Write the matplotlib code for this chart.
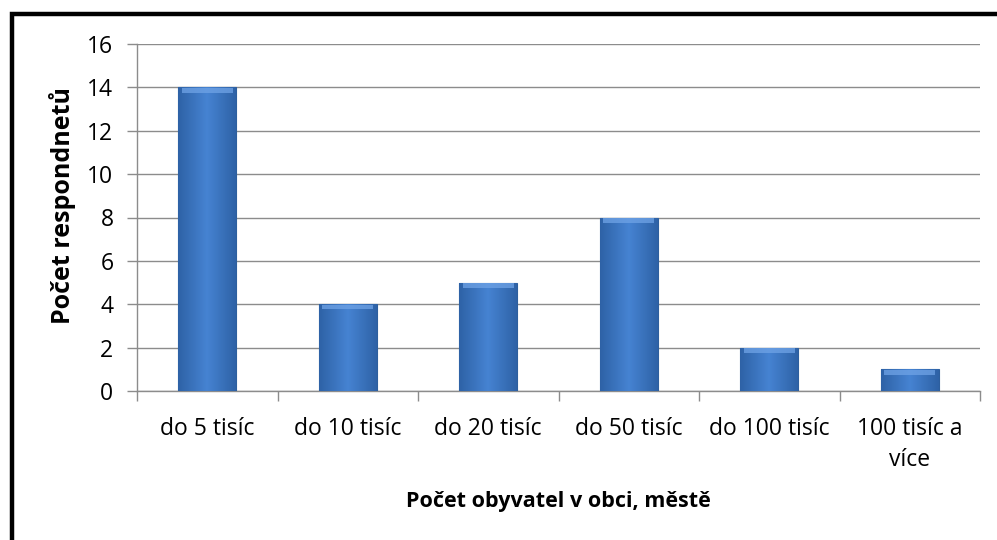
"""Bar chart - Počet respondentů podle velikosti obce."""
import matplotlib
matplotlib.use("Agg")
import matplotlib.pyplot as plt
import numpy as np
from matplotlib.patches import Rectangle

categories = ["do 5 tisíc", "do 10 tisíc", "do 20 tisíc", "do 50 tisíc", "do 100 tisíc", "100 tisíc a\nvíce"]
counts = [14, 4, 5, 8, 2, 1]
y_ticks = [0, 2, 4, 6, 8, 10, 12, 14, 16]

plt.rcParams["font.family"] = ["Open Sans", "DejaVu Sans"]

fig = plt.figure(figsize=(9.97, 5.40), dpi=100)
ax = fig.add_axes([137 / 997, 1 - 391 / 540, (980 - 137) / 997, (391 - 44) / 540])

x = np.arange(len(categories))
bars = ax.bar(x, counts, width=0.41, color="#3F7BC8", edgecolor="#2D5F9E", linewidth=0.8, zorder=3)

# horizontal gradient on each bar, darker at the sides
grad = np.linspace(0, 1, 256)
grad = 1 - 0.55 * np.abs(grad - 0.5) * 2
grad = grad[np.newaxis, :]
cmap = matplotlib.colors.LinearSegmentedColormap.from_list("barblue", ["#2E62A6", "#4683D2"])
for bar in bars:
    bx, by = bar.get_x(), bar.get_y()
    bw, bh = bar.get_width(), bar.get_height()
    im = ax.imshow(grad, extent=[bx, bx + bw, by, by + bh], aspect="auto", cmap=cmap,
                   vmin=0.45, vmax=1, zorder=4)
    im.set_clip_path(bar)
    # light bevel at top
    ax.add_patch(Rectangle((bx + bw * 0.06, by + bh - 0.24), bw * 0.88, 0.2,
                           color="#6FA3E6", alpha=0.75, zorder=5, linewidth=0))

ax.set_xlim(-0.5, len(categories) - 0.5)
ax.set_ylim(0, 16)
ax.set_yticks(y_ticks)
ax.tick_params(axis="y", length=7, width=1, color="#8c8c8c", labelsize=16.5, pad=10)
ax.yaxis.grid(True, color="#8c8c8c", linewidth=1, zorder=0)

ax.set_xticks(x)
ax.set_xticklabels(categories, fontsize=16.5, linespacing=1.35)
ax.tick_params(axis="x", length=0, pad=19)
ax.set_xticks(np.arange(len(categories) + 1) - 0.5, minor=True)
ax.tick_params(axis="x", which="minor", length=7, width=1, color="#8c8c8c")

for side in ["top", "right"]:
    ax.spines[side].set_visible(False)
for side in ["left", "bottom"]:
    ax.spines[side].set_color("#8c8c8c")
    ax.spines[side].set_linewidth(1)

ax.set_ylabel("Počet respondnetů", fontsize=18, fontweight="bold")
ax.yaxis.set_label_coords(-0.072, 0.535)
ax.set_xlabel("Počet obyvatel v obci, městě", fontsize=15.5, fontweight="bold", labelpad=14)

# thick frame around the chart, cut off at the right and bottom
fig.patches.append(Rectangle((12 / 997, -0.05), 1.1, 1 - 14 / 540 + 0.05, transform=fig.transFigure,
                             fill=False, edgecolor="black", linewidth=3.2))

fig.savefig("out.png", dpi=100)
